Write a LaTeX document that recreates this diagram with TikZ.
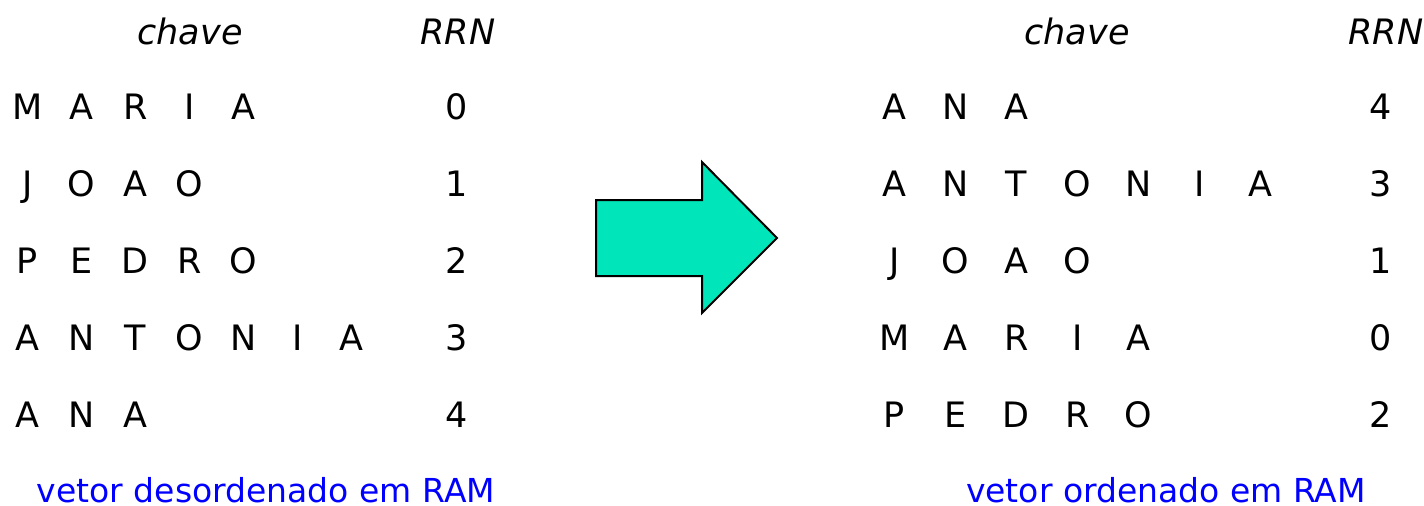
\documentclass[tikz,border=0pt]{standalone}
\usepackage{fontspec}
\setmainfont{DejaVu Sans}
\usepackage{tikz}
\usetikzlibrary{positioning}
\definecolor{seta}{RGB}{0,229,185}
\definecolor{azul}{RGB}{0,0,255}

\newlength{\passo}
\newcommand{\letras}[1]{\expandafter\letrasaux#1\relax}
\def\letrasaux#1{\ifx#1\relax\else\makebox[\passo][c]{#1}\expandafter\letrasaux\fi}

\tikzset{
  txt/.style={inner sep=0pt, anchor=base, font=\fontsize{17.5}{21}\selectfont},
  chave/.style={txt, anchor=base west},
  cab/.style={txt, font=\fontsize{17.5}{21}\selectfont\itshape},
  rotulo/.style={txt, text=azul, font=\fontsize{16.5}{20}\selectfont}
}

\begin{document}
\begin{tikzpicture}[x=0.5pt,y=-0.5pt]
\useasboundingbox (0,0) rectangle (1424,505);
% vetor desordenado
\node[cab] (chaveL) at (190,44) {chave};
\node[cab] (rrnL) at (458,44) {RRN};
\setlength{\passo}{27pt}
\foreach \nome/\rrn [count=\i] in {MARIA/0,JOAO/1,PEDRO/2,ANTONIA/3,ANA/4}{
  \node[chave] (kL\i) at (0,42+77*\i) {\letras\nome};
  \node[txt] (nL\i) at (457,42+77*\i) {\rrn};
}
\node[rotulo] (rotL) at (266,502) {vetor desordenado em RAM};
% seta
\filldraw[fill=seta, line width=1pt] (596,200) -- (702,200) -- (702,162) -- (777,238)
  -- (702,313) -- (702,276) -- (596,276) -- cycle;
% vetor ordenado
\node[cab] (chaveR) at (1077,44) {chave};
\node[cab] (rrnR) at (1386,44) {RRN};
\setlength{\passo}{30.5pt}
\foreach \nome/\rrn [count=\i] in {ANA/4,ANTONIA/3,JOAO/1,MARIA/0,PEDRO/2}{
  \node[chave] (kR\i) at (863.5,42+77*\i) {\letras\nome};
  \node[txt] (nR\i) at (1381,42+77*\i) {\rrn};
}
\node[rotulo] (rotR) at (1166,502) {vetor ordenado em RAM};
\end{tikzpicture}
\end{document}
